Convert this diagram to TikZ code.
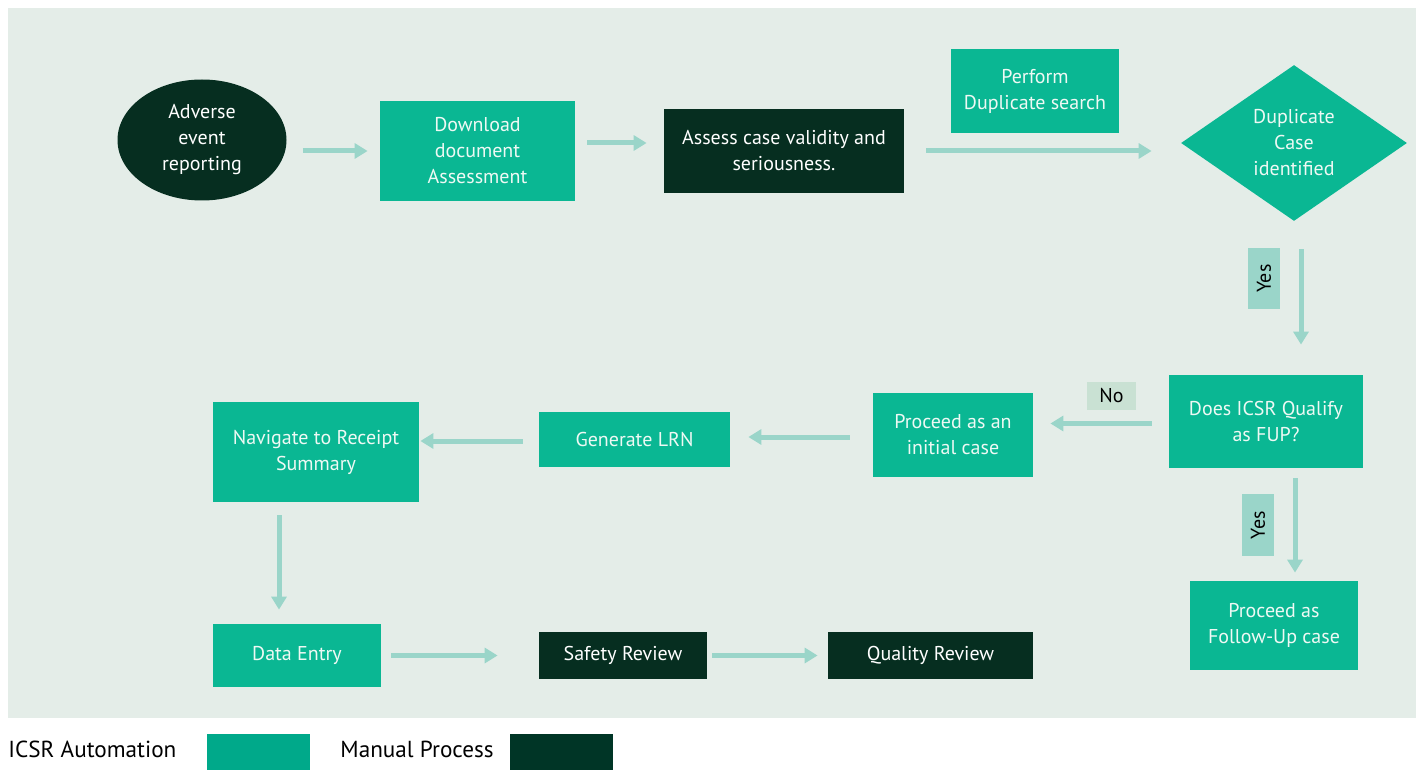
\documentclass[tikz,border=0pt]{standalone}
\usepackage{fontspec}
\setmainfont{PT Sans}
\usepackage{tikz}
\usetikzlibrary{shapes.geometric, arrows.meta, positioning}
\definecolor{PanelGrey}{HTML}{E4EDE8}
\definecolor{AutoTeal}{HTML}{0AB793}
\definecolor{ManualDark}{HTML}{062E20}
\definecolor{ArrowMint}{HTML}{9AD5C9}
\definecolor{NoTag}{HTML}{C9E1D3}
\definecolor{LegendTeal}{HTML}{00A98A}
\definecolor{LegendDark}{HTML}{003526}
\definecolor{BoxText}{HTML}{EEF9F4}

\begin{document}
\begin{tikzpicture}[
  x=0.5pt, y=-0.5pt,
  autobox/.style={fill=AutoTeal, text=BoxText, inner sep=0pt,
                  font=\fontsize{10}{13}\selectfont, align=center},
  manualbox/.style={fill=ManualDark, text=white, inner sep=0pt,
                    font=\fontsize{10}{13}\selectfont, align=center},
  flow/.style={-{Triangle[length=6.5pt,width=7.5pt]}, ArrowMint, line width=2.5pt},
  tag/.style={fill=ArrowMint, text=black, inner sep=0pt,
              font=\fontsize{10}{12}\selectfont},
  legend/.style={text=black, inner sep=0pt, font=\fontsize{11.6}{13}\selectfont},
]
\useasboundingbox (0,0) rectangle (1424,770);
% Background panel
\fill[PanelGrey] (8,8) rectangle (1416,718);

% Top row
\node[manualbox, ellipse, minimum width=84.5pt, minimum height=60.5pt] (report) at (202,140) {Adverse\\event\\reporting};
\node[autobox, minimum width=97.5pt, minimum height=50pt] (download) at (477.5,151) {Download\\document\\Assessment};
\node[manualbox, minimum width=120pt, minimum height=42pt] (assess) at (784,151) {Assess case validity and\\seriousness.};
\node[autobox, minimum width=84pt, minimum height=42pt] (dupsearch) at (1035,91) {Perform\\Duplicate search};
\node[autobox, diamond, minimum width=113pt, minimum height=78pt] (dupcase) at (1294,143) {Duplicate\\Case\\identified};

% Middle row
\node[autobox, minimum width=97pt, minimum height=46.5pt] (fup) at (1266,421.5) {Does ICSR Qualify\\as FUP?};
\node[autobox, minimum width=80pt, minimum height=42pt] (initial) at (953,435) {Proceed as an\\initial case};
\node[autobox, minimum width=95.5pt, minimum height=27.5pt] (lrn) at (634.5,439.5) {Generate LRN};
\node[autobox, minimum width=103pt, minimum height=50pt] (receipt) at (316,452) {Navigate to Receipt\\Summary};

% Bottom row
\node[autobox, minimum width=84pt, minimum height=31.5pt] (entry) at (297,655.5) {Data Entry};
\node[manualbox, minimum width=84pt, minimum height=23.5pt] (safety) at (623,655.5) {Safety Review};
\node[manualbox, minimum width=102.5pt, minimum height=23.5pt] (quality) at (930.5,655.5) {Quality Review};
\node[autobox, minimum width=84pt, minimum height=44.5pt] (followup) at (1274,625.5) {Proceed as\\Follow-Up case};

% Connectors
\draw[flow, shorten <=8pt, shorten >=6pt] (report.east |- download.west) -- (download.west);
\draw[flow, shorten <=6pt, shorten >=8.5pt] ([yshift=4pt]download.east) -- ([yshift=4pt]assess.west);
\draw[flow, shorten <=11pt, shorten >=14.5pt] (assess.east) -- (assess.east -| dupcase.west);
\draw[flow, shorten <=14pt, shorten >=15pt] ([xshift=3.5pt]dupcase.south) -- ([xshift=3.5pt]dupcase.south |- fup.north);
\draw[flow, shorten <=8.5pt, shorten >=8.5pt] ([yshift=-1pt]fup.west) -- ([yshift=-1pt]fup.west -| initial.east);
\draw[flow, shorten <=11.5pt, shorten >=9pt] ([yshift=-1pt]initial.west) -- ([yshift=-1pt]initial.west -| lrn.east);
\draw[flow, shorten <=8pt, shorten >=0.5pt] ([yshift=-0.75pt]lrn.west) -- ([yshift=-0.75pt]lrn.west -| receipt.east);
\draw[flow, shorten <=6.5pt, shorten >=7pt] ([xshift=-18.5pt]receipt.south) -- ([xshift=-18.5pt]receipt.south |- entry.north);
\draw[flow, shorten <=5pt, shorten >=20.5pt] (entry.east) -- (entry.east -| safety.west);
\draw[flow, shorten <=2.5pt, shorten >=5pt] (safety.east) -- (quality.west);
\draw[flow, shorten <=5pt, shorten >=4pt] ([xshift=14.5pt]fup.south) -- ([xshift=14.5pt]fup.south |- followup.north);

% Branch labels
\node[tag, rotate=90, minimum width=30.5pt, minimum height=16pt] (yesdup) at (1264,278.5) {Yes};
\node[tag, rotate=90, minimum width=31pt, minimum height=16pt] (yesfup) at (1258,525) {Yes};
\node[tag, fill=NoTag, minimum width=24.5pt, minimum height=14pt] (nofup) at (1111.5,396) {No};

% Legend
\node[legend, anchor=west] (autolabel) at (8,749) {ICSR Automation};
\node[fill=LegendTeal, minimum width=51.5pt, minimum height=18pt, inner sep=0pt] (autokey) at (258.5,752) {};
\node[legend, anchor=west] (manuallabel) at (340,749) {Manual Process};
\node[fill=LegendDark, minimum width=51.5pt, minimum height=18pt, inner sep=0pt] (manualkey) at (561.5,752) {};
\end{tikzpicture}
\end{document}
